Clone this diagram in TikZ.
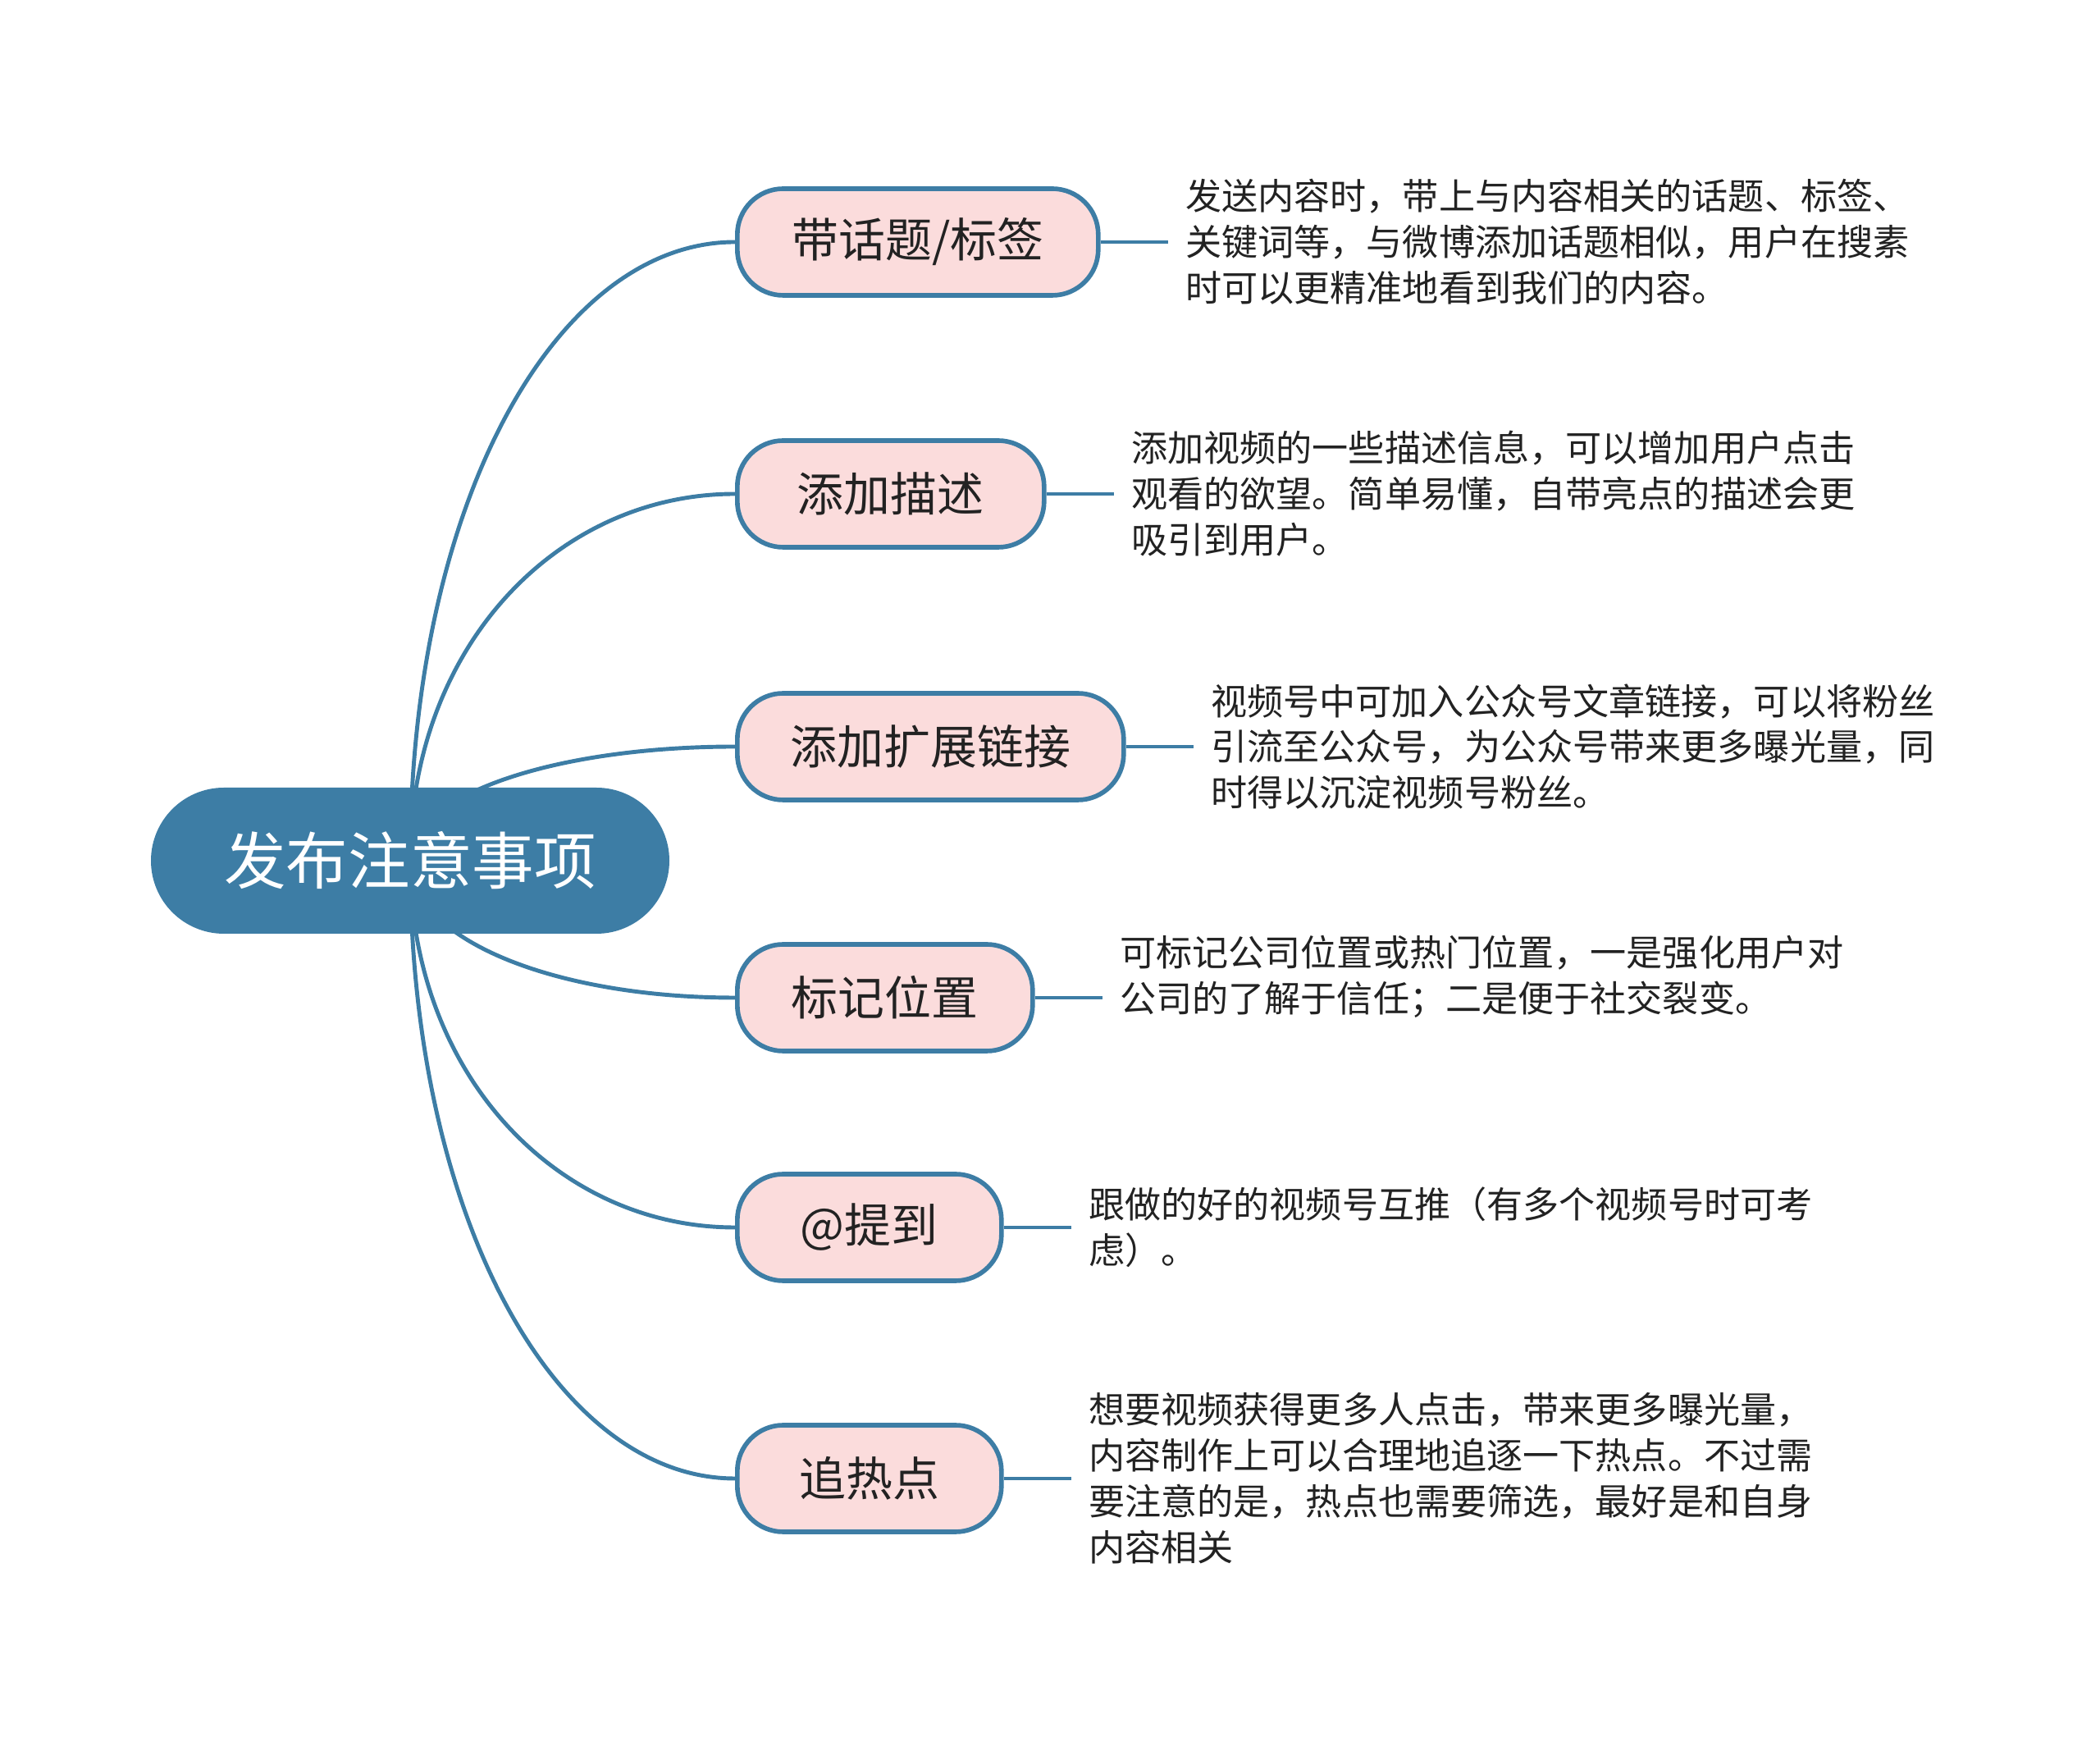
\documentclass[tikz,border=0pt]{standalone}
\usepackage{fontspec}
\newfontfamily\cjk{Noto Sans CJK SC}
\usetikzlibrary{positioning,calc,backgrounds}

\definecolor{mapblue}{HTML}{3D7DA5}
\definecolor{mappink}{HTML}{FBDCDC}
\definecolor{maptext}{HTML}{222222}

\tikzset{
  rootbox/.style={fill=mapblue, text=white, rounded corners=0.89cm,
    minimum width=6.32cm, minimum height=1.78cm,
    font=\cjk\fontsize{21.5}{26}\selectfont},
  topicbox/.style={draw=mapblue, line width=1.6pt, fill=mappink, text=maptext,
    rounded corners=0.56cm, minimum height=1.3cm, inner xsep=0.4cm,
    font=\cjk\fontsize{16.2}{19}\selectfont},
  notetext/.style={text=maptext, align=left, inner xsep=0.21cm, inner ysep=0pt,
    font=\cjk\fontsize{12.55}{15.9}\selectfont},
  branch/.style={draw=mapblue, line width=1.4pt},
}

\begin{document}
\begin{tikzpicture}

  \useasboundingbox (0,0) rectangle (25.6,21.27);

  % -- Central topic --
  \node[rootbox] (root) at (5.00,10.78) {发布注意事项};

  % -- Main branches --
  \node[topicbox, anchor=west, minimum width=4.40cm] (n1) at (8.96,18.32) {带话题/标签};
  \node[topicbox, anchor=west, minimum width=3.74cm] (n2) at (8.96,15.25) {添加描述};
  \node[topicbox, anchor=west, minimum width=4.71cm] (n3) at (8.96,12.17) {添加扩展链接};
  \node[topicbox, anchor=west, minimum width=3.60cm] (n4) at (8.96,9.11) {标记位置};
  \node[topicbox, anchor=west, minimum width=3.22cm] (n5) at (8.96,6.31) {@提到};
  \node[topicbox, anchor=west, minimum width=3.22cm] (n6) at (8.96,3.25) {追热点};

  % -- Notes --
  \node[notetext, right=0.82cm of n1] (d1) {发送内容时，带上与内容相关的话题、标签、\\关键词等，与微博添加话题相似，用户在搜素\\时可以更精准地看到我们的内容。};
  \node[notetext, right=0.82cm of n2] (d2) {添加视频的一些描述信息，可以增加用户点击\\观看的欲望。简单易懂，自带亮点的描述会更\\吸引到用户。};
  \node[notetext, right=0.82cm of n3] (d3) {视频号中可加入公众号文章链接，可以将粉丝\\引流至公众号，为公众号带来更多曝光量，同\\时得以沉淀视频号粉丝。};
  \node[notetext, right=0.82cm of n4, yshift=0.26cm] (d4) {可标记公司位置或热门位置，一是强化用户对\\公司的了解于信任；二是便于社交裂变。};
  \node[notetext, right=0.82cm of n5] (d5) {跟做的好的视频号互推（有多个视频号时可考\\虑）。};
  \node[notetext, right=0.82cm of n6] (d6) {想要视频获得更多人点击，带来更多曝光量，\\内容制作上可以合理地追逐一下热点。不过需\\要注意的是，热点也需要筛选，最好是和自身\\内容相关};

  % -- Connectors --
  \begin{scope}[on background layer]
    \foreach \n in {n1,n2,n3,n4,n5,n6}
      \draw[branch] (root.center)
        .. controls ($(root.center)!0.58!(root.center |- \n.west)$)
        and ($(\n.west)!0.55!(root.center |- \n.west)$) .. (\n.west);
  \end{scope}
  \foreach \n/\d in {n1/d1,n2/d2,n3/d3,n4/d4,n5/d5,n6/d6}
    \draw[branch] (\n.east) -- (\n.east -| \d.west);

\end{tikzpicture}
\end{document}
